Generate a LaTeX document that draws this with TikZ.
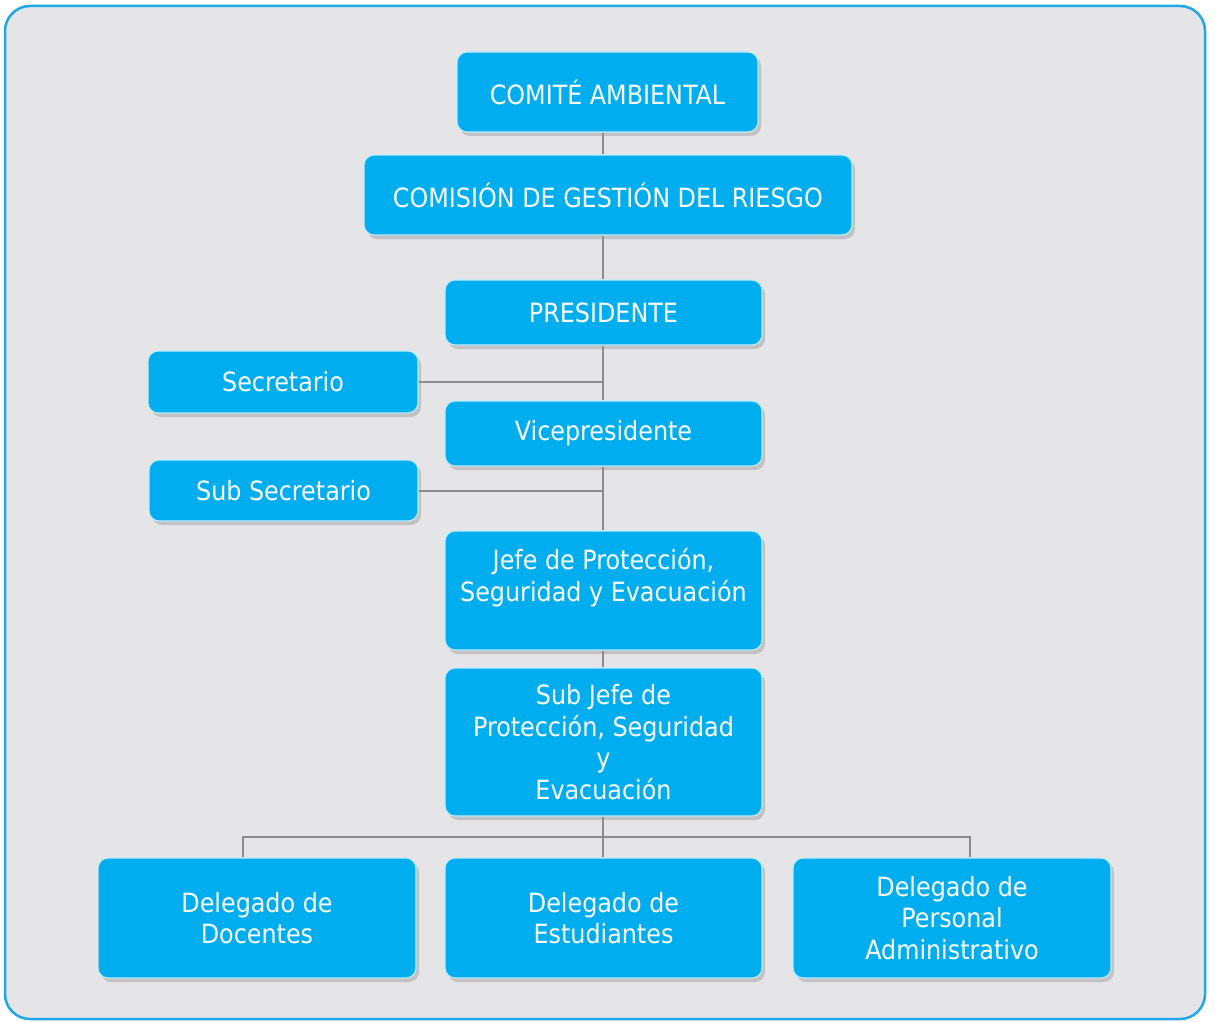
\documentclass[tikz,border=0pt]{standalone}
\usepackage{fontspec}
\setmainfont{DejaVu Sans Condensed}
\usetikzlibrary{shadows}
\definecolor{boxcyan}{HTML}{00AEEF}
\definecolor{framebg}{HTML}{E5E5E8}
\definecolor{frameline}{HTML}{22A7E6}
\definecolor{connline}{HTML}{8C8C8C}
\begin{document}
\begin{tikzpicture}[x=1pt,y=-1pt,
  orgbox/.style={rectangle, rounded corners=10pt, fill=boxcyan, draw=white!75!boxcyan,
    line width=1.2pt, text=white, align=center, inner sep=0pt,
    font=\fontsize{26.5}{31.5}\selectfont,
    drop shadow={shadow xshift=3pt, shadow yshift=-4pt, opacity=0.3, fill=black!55}},
  conn/.style={draw=connline, line width=2pt}]
\useasboundingbox (0,0) rectangle (1215,1022);
\fill[white] (0,0) rectangle (1215,1022);
\draw[fill=framebg, draw=frameline, line width=2.5pt, rounded corners=25pt] (5,6) rectangle (1205,1019);
\coordinate (t) at (603,0);
\coordinate (bl) at (243,837);
\coordinate (br) at (970,837);
\coordinate (bus) at (603,837);
\node[orgbox, minimum width=301pt, minimum height=80pt] (comite) at (607.5,92) {COMITÉ AMBIENTAL};
\node[orgbox, minimum width=488pt, minimum height=80pt] (comision) at (608,195) {COMISIÓN DE GESTIÓN DEL RIESGO};
\node[orgbox, minimum width=317pt, minimum height=65pt] (pres) at (603.5,312.5) {PRESIDENTE};
\node[orgbox, minimum width=270pt, minimum height=62pt] (sec) at (283,382) {Secretario};
\node[orgbox, minimum width=317pt, minimum height=65pt] (vice) at (603.5,433.5) {Vicepresidente};
\node[orgbox, minimum width=269pt, minimum height=61pt] (subsec) at (283.5,490.5) {Sub Secretario};
\node[orgbox, minimum width=317pt, minimum height=119pt] (jefe) at (603.5,590.5) {Jefe de Protección,\\Seguridad y Evacuación\\~};
\node[orgbox, minimum width=317pt, minimum height=148pt] (subjefe) at (603.5,742) {Sub Jefe de\\Protección, Seguridad\\y\\Evacuación};
\node[orgbox, minimum width=318pt, minimum height=120pt] (doc) at (257,918) {Delegado de\\Docentes};
\node[orgbox, minimum width=317pt, minimum height=120pt] (est) at (603.5,918) {Delegado de\\Estudiantes};
\node[orgbox, minimum width=318pt, minimum height=120pt] (pers) at (952,918) {Delegado de\\Personal\\Administrativo};
\draw[conn] (comite.south -| t) -- (comision.north -| t);
\draw[conn] (comision.south -| t) -- (pres.north -| t);
\draw[conn] (pres.south -| t) -- (vice.north -| t);
\draw[conn] (vice.south -| t) -- (jefe.north -| t);
\draw[conn] (jefe.south -| t) -- (subjefe.north -| t);
\draw[conn] (sec.east) -- (sec.east -| t);
\draw[conn] (subsec.east) -- (subsec.east -| t);
\draw[conn] (subjefe.south -| t) -- (bus) -- (est.north -| t);
\draw[conn] (doc.north -| bl) -- (bl) -- (br) -- (pers.north -| br);
\end{tikzpicture}
\end{document}
